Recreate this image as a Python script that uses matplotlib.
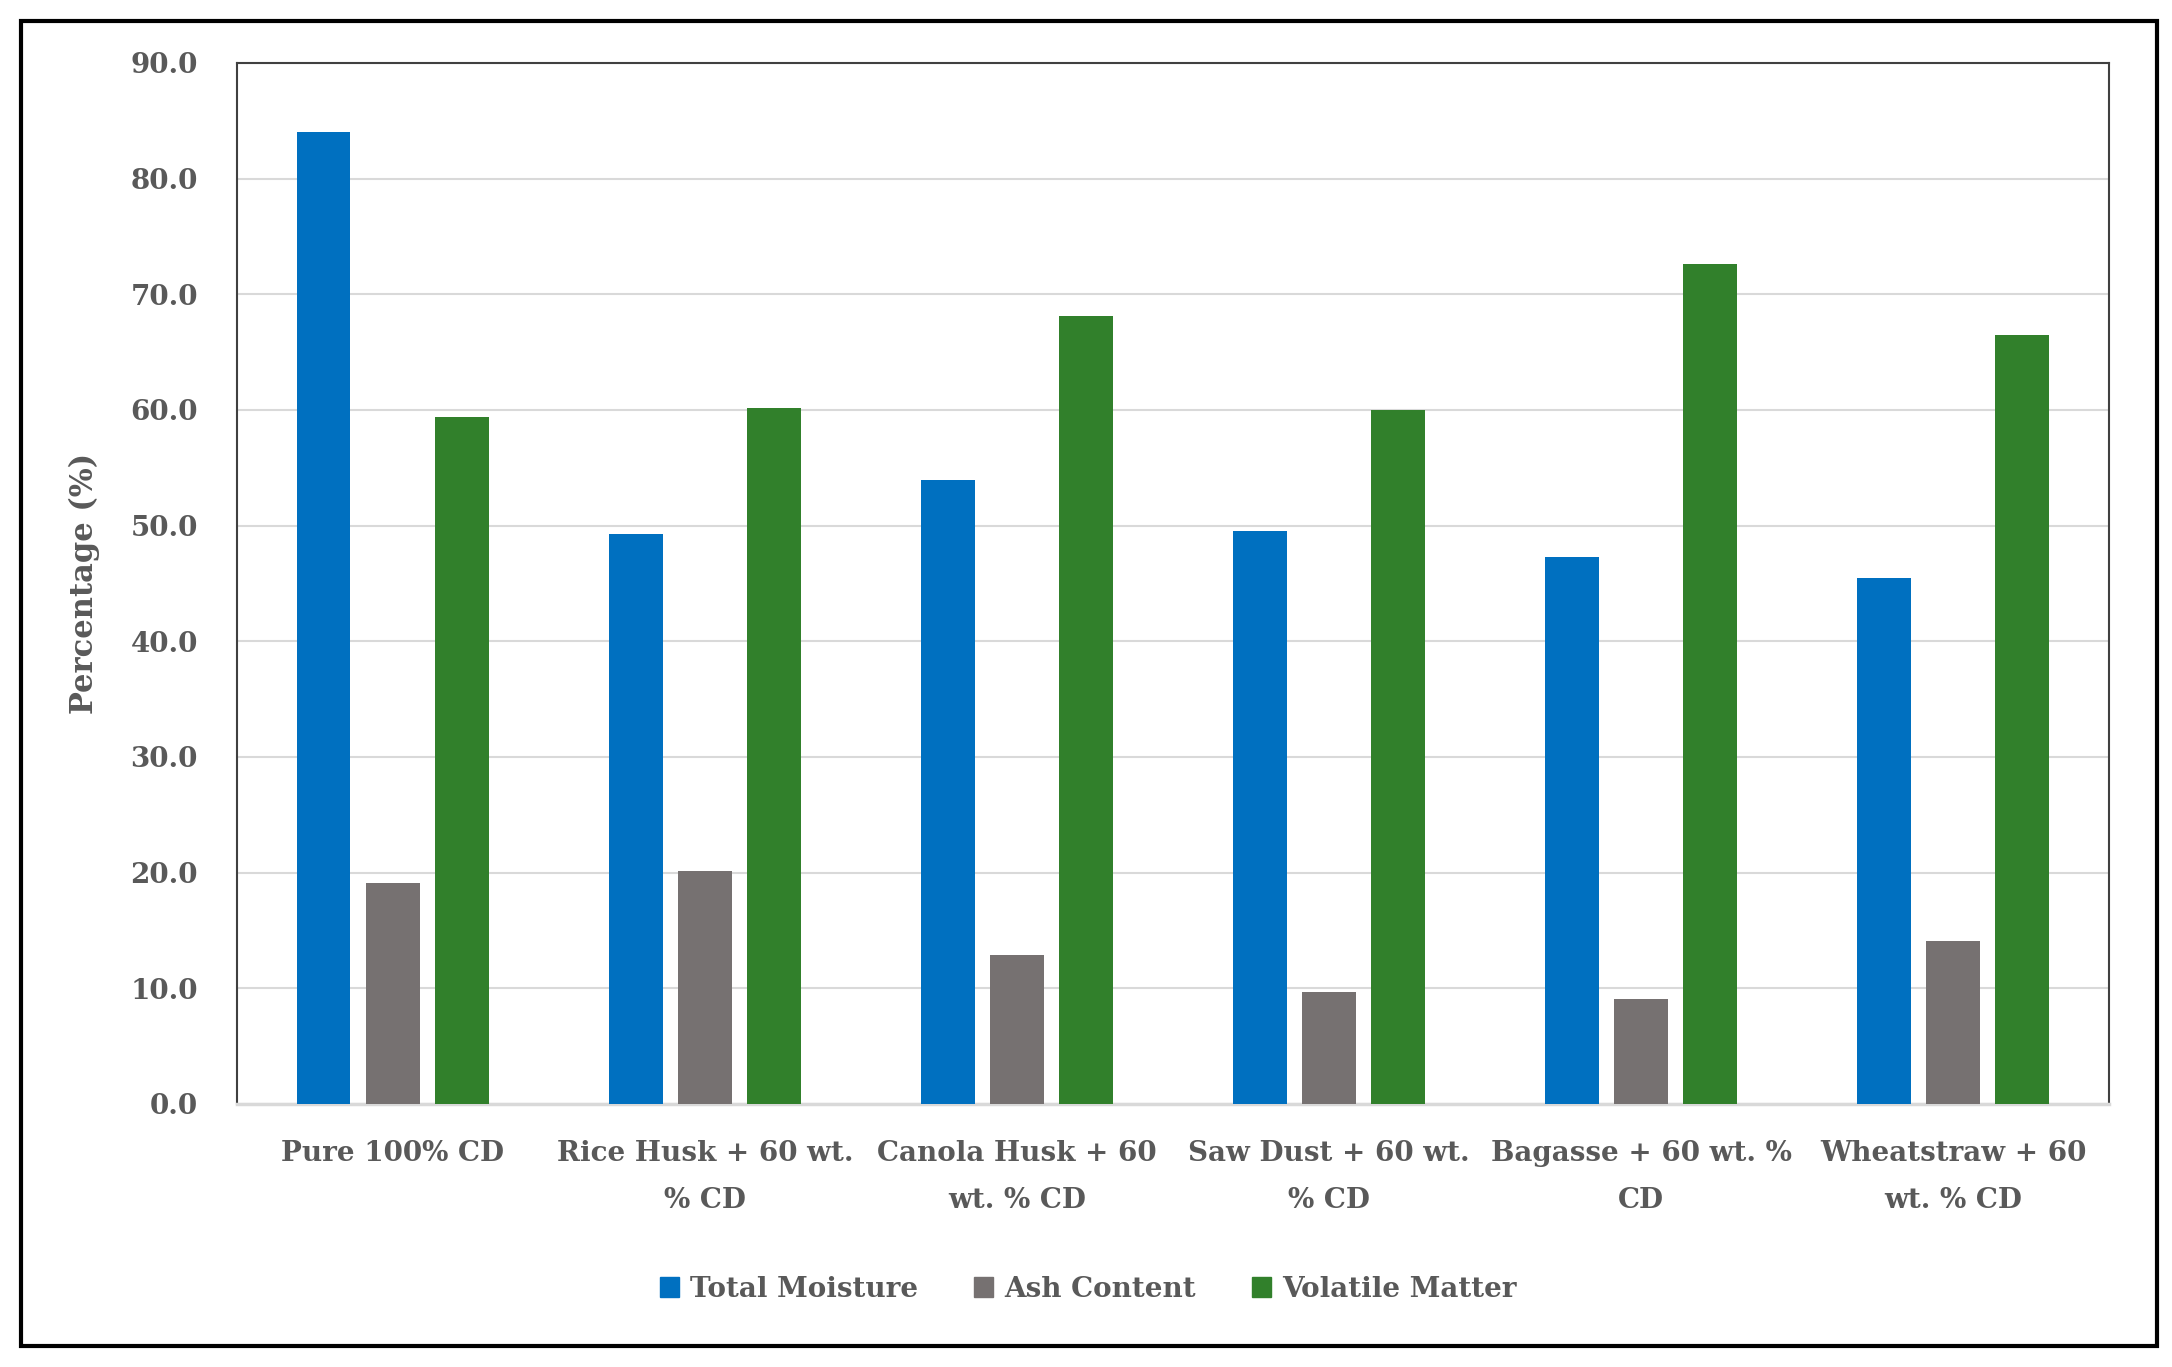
import matplotlib.pyplot as plt
import matplotlib.patches as mpatches
import numpy as np

categories = ['Pure 100% CD', 'Rice Husk + 60 wt.\n% CD', 'Canola Husk + 60\nwt. % CD',
              'Saw Dust + 60 wt.\n% CD', 'Bagasse + 60 wt. %\nCD', 'Wheatstraw + 60\nwt. % CD']
total_moisture = [84.0, 49.3, 53.9, 49.5, 47.3, 45.5]
ash_content = [19.1, 20.1, 12.9, 9.7, 9.1, 14.1]
volatile_matter = [59.4, 60.2, 68.1, 60.0, 72.6, 66.5]
series_names = ['Total Moisture', 'Ash Content', 'Volatile Matter']
colors = ['#0070C0', '#767171', '#31802B']
yticks = np.arange(0, 91, 10)

plt.rcParams['font.family'] = ['DejaVu Serif']
plt.rcParams['font.weight'] = 'bold'
txt = '#595959'

fig = plt.figure(figsize=(21.72, 13.67), dpi=100)
ax = fig.add_axes([0.109, 0.1925, 0.862, 0.7615])

x = np.arange(len(categories))
w = 0.173
step = 0.222
for i, (vals, c, name) in enumerate(zip([total_moisture, ash_content, volatile_matter], colors, series_names)):
    ax.bar(x + (i - 1) * step, vals, width=w, color=c, label=name, zorder=3)

ax.set_xlim(-0.5, len(categories) - 0.5)
ax.set_ylim(0, 90)
ax.set_yticks(yticks)
ax.set_yticklabels([f'{v:.1f}' for v in yticks], fontsize=20, color=txt)
ax.set_xticks(x)
ax.set_xticklabels(categories, fontsize=20, color=txt, linespacing=1.95)
ax.tick_params(axis='both', length=0)
ax.tick_params(axis='y', pad=28)
ax.tick_params(axis='x', pad=26)
ax.yaxis.grid(True, color='#d9d9d9', linewidth=1.5, zorder=0)
ax.set_axisbelow(True)
for s in ['left', 'top', 'right']:
    ax.spines[s].set_color('#404040')
    ax.spines[s].set_linewidth(1.5)
ax.spines['bottom'].set_color('#d9d9d9')
ax.spines['bottom'].set_linewidth(2.5)

ax.set_ylabel('Percentage (%)', fontsize=22, color=txt, labelpad=22, fontweight='bold')

handles = [mpatches.Patch(color=c, label=n) for c, n in zip(colors, series_names)]
fig.legend(handles=handles, loc='center', bbox_to_anchor=(0.501, 0.057), ncol=3, frameon=False,
           prop={'size': 20, 'weight': 'bold'}, labelcolor=txt, handlelength=0.7, handleheight=0.7,
           handletextpad=0.4, columnspacing=2.0)

# outer frame
fig.add_artist(mpatches.Rectangle((0.0096, 0.015), 0.9834, 0.970, transform=fig.transFigure,
                                  fill=False, edgecolor='black', linewidth=3))

fig.savefig('out.png', dpi=100)
